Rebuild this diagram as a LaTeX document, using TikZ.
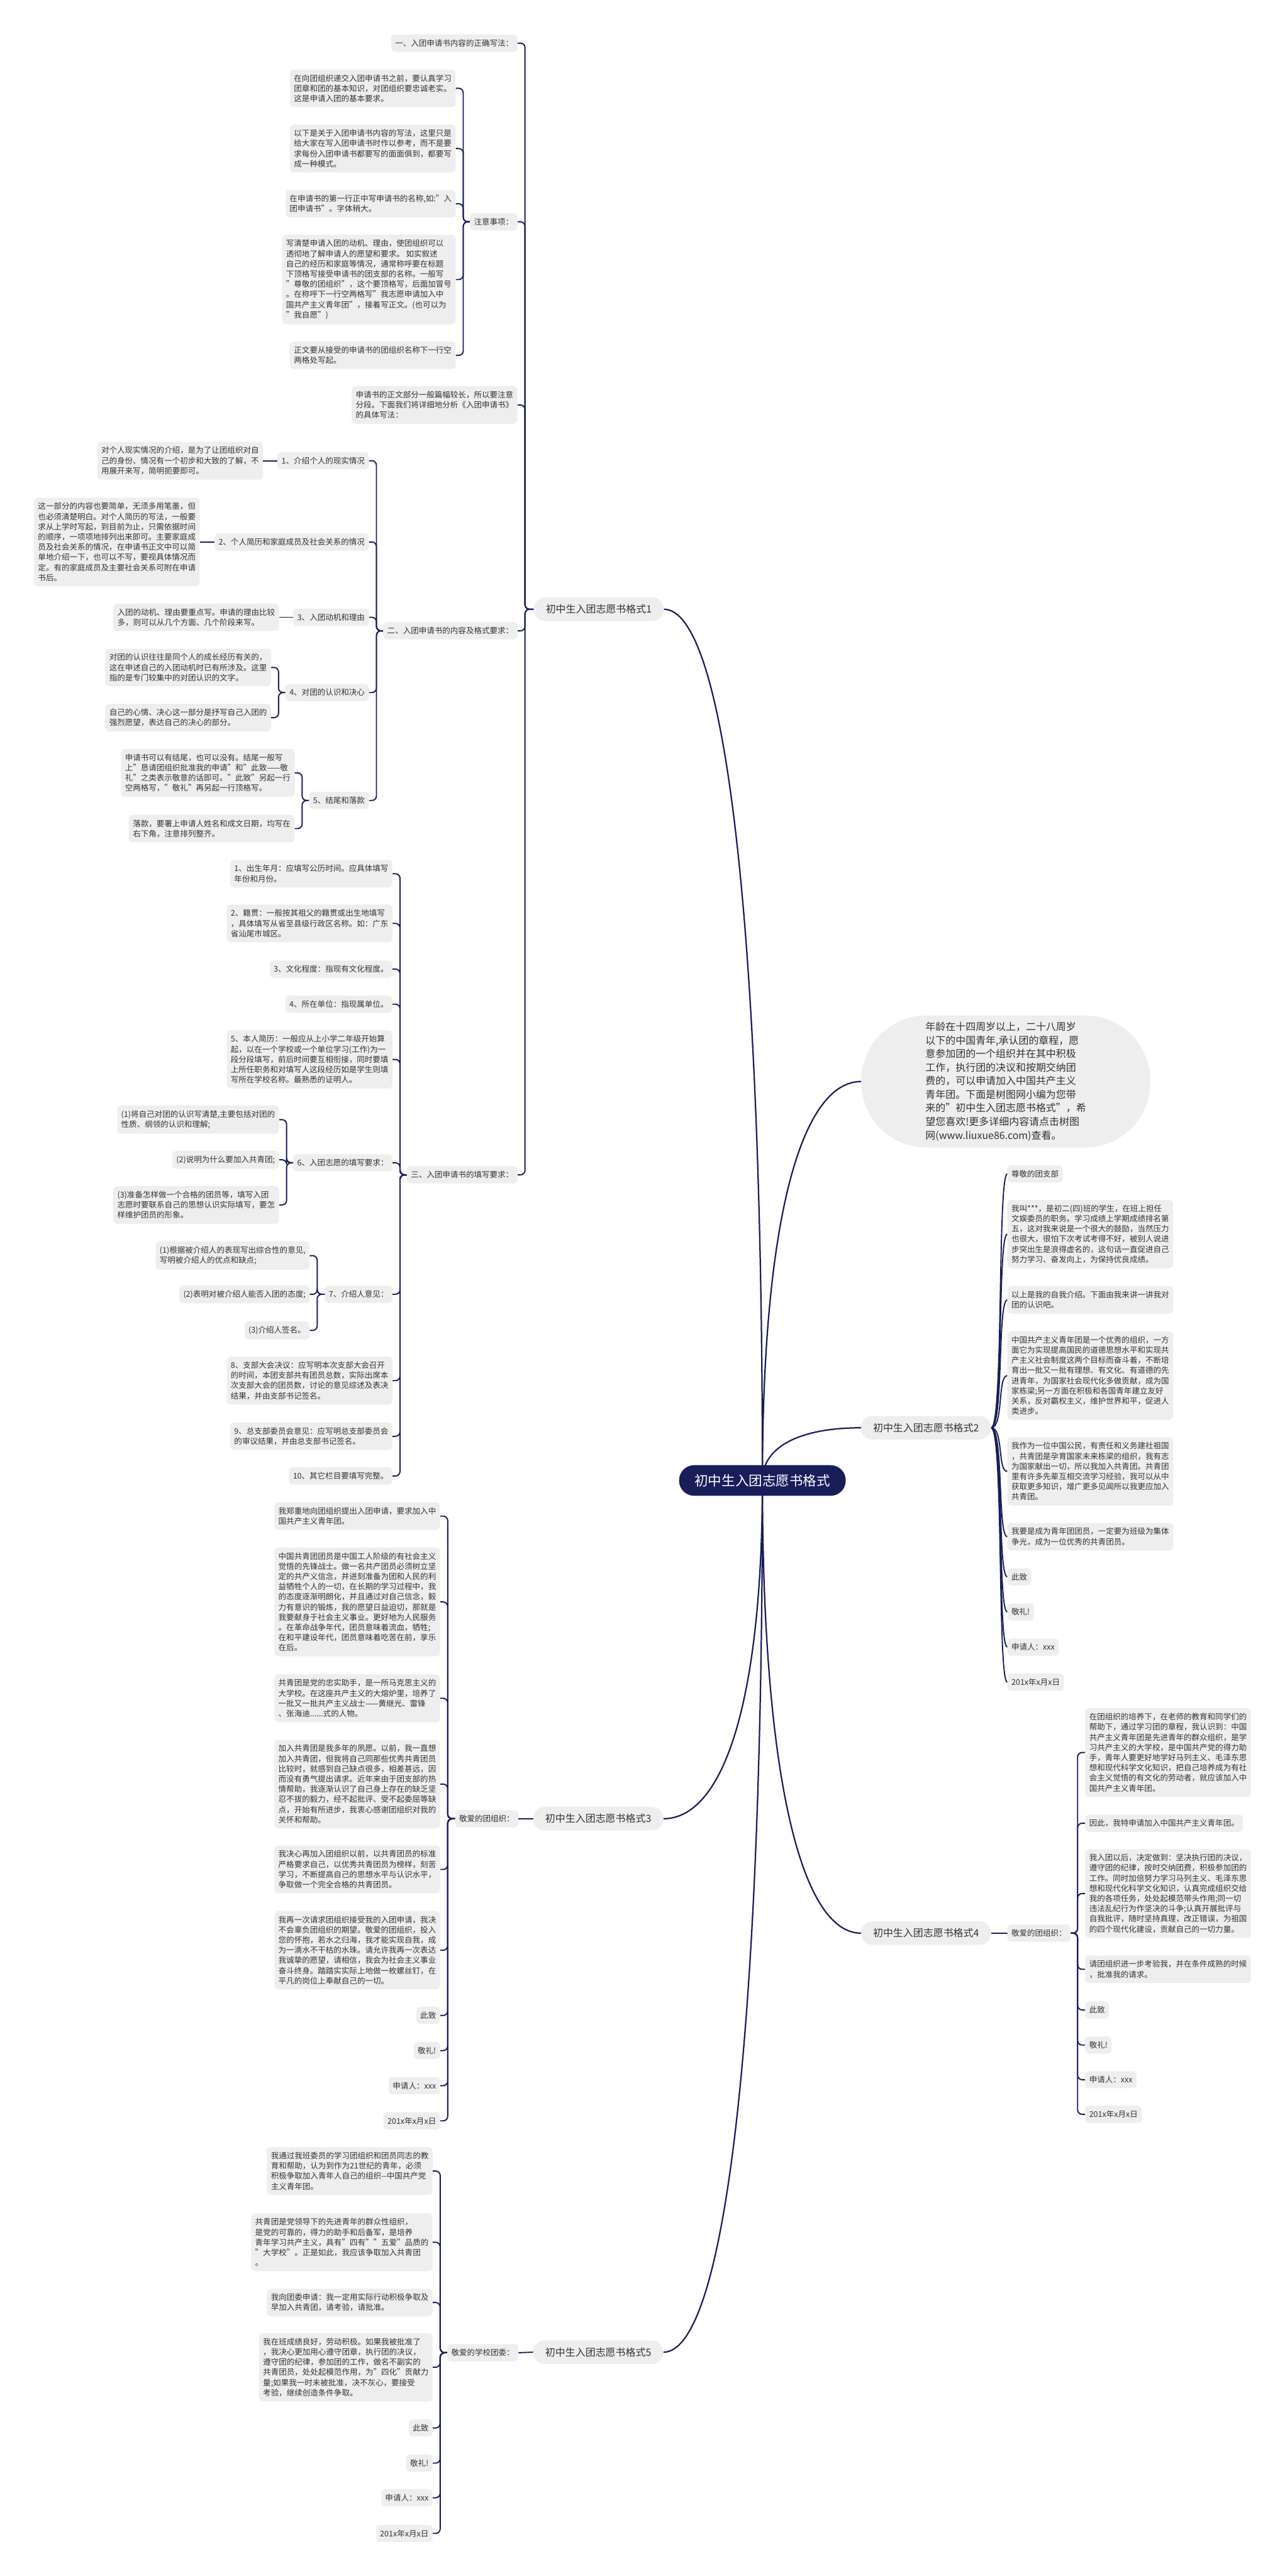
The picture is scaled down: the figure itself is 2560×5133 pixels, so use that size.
\documentclass[tikz,border=0pt]{standalone}
\usepackage{fontspec}
\setmainfont{Noto Sans CJK SC}
\usetikzlibrary{calc}
\definecolor{navy}{RGB}{25,29,90}
\definecolor{boxg}{RGB}{238,238,238}
\definecolor{txt}{RGB}{51,51,51}
\pgfdeclarelayer{bg}
\pgfdeclarelayer{lines}
\pgfsetlayers{bg,lines,main}
\tikzset{
 box/.style={fill=boxg, rounded corners=7pt, align=left, text=txt, font=\fontsize{15.7}{20.3}\selectfont, inner xsep=8pt, inner ysep=9.8pt},
 lab/.style={fill=boxg, rounded corners=23pt, text=txt, font=\fontsize{20}{24}\selectfont, minimum height=47pt, minimum width=259pt, inner sep=0pt},
 br/.style={draw=navy, line width=2.4pt, rounded corners=9pt},
 mainln/.style={draw=navy, line width=2.8pt},
 L/.style={box, anchor=east},
 R/.style={box, anchor=west},
}
\newcommand\maincurve[1]{\draw[mainln] (#1) .. controls ($(#1)!0.6!(#1 -| root.center)$) and ($(root.center)!0.66!(root.center |- #1)$) .. (root.center);}
\newcommand\linkL[2]{\draw[br] (#2.east) -- ++(15,0) |- (#1.west);}
\newcommand\linkR[2]{\draw[br] (#2.west) -- ++(-15,0) |- (#1.east);}
\newcommand\linkS[2]{\draw[br] (#2.east) -- (#1.west);}
\newcommand\linkC[2]{\draw[br] (#1.east) .. controls +(25,0) and +(-20,0) .. (#2.west);}
\begin{document}
\begin{tikzpicture}[x=1pt,y=-1pt]
\useasboundingbox (0,0) rectangle (2560,5133);
\begin{pgfonlayer}{bg}\fill[white] (0,0) rectangle (2560,5133);\end{pgfonlayer}

% root and main labels
\node[fill=navy, text=white, rounded corners=30pt, minimum width=332pt, minimum height=61pt, inner sep=0pt, font=\fontsize{27}{30}\selectfont] (root) at (1519,2950) {初中生入团志愿书格式};
\node[lab] (f1) at (1193,1214) {初中生入团志愿书格式1};
\node[lab] (f2) at (1845,2845) {初中生入团志愿书格式2};
\node[lab] (f3) at (1192,3624) {初中生入团志愿书格式3};
\node[lab] (f4) at (1845,3852) {初中生入团志愿书格式4};
\node[lab] (f5) at (1192,4687) {初中生入团志愿书格式5};
\node[fill=boxg, rounded corners=130pt, minimum width=576pt, minimum height=263pt, align=left, text=txt, font=\fontsize{20}{27}\selectfont] (intro) at (2004,2155) {年龄在十四周岁以上，二十八周岁\\以下的中国青年,承认团的章程，愿\\意参加团的一个组织并在其中积极\\工作，执行团的决议和按期交纳团\\费的，可以申请加入中国共产主义\\青年团。下面是树图网小编为您带\\来的"初中生入团志愿书格式"，希\\望您喜欢!更多详细内容请点击树图\\网(www.liuxue86.com)查看。};

% ---------------- format 1
\node[L] (t1) at (1031,86) {一、入团申请书内容的正确写法：};
\node[L] (zy) at (1031,442) {注意事项：};
\node[L] (zy1) at (908,176) {在向团组织递交入团申请书之前，要认真学习\\团章和团的基本知识，对团组织要忠诚老实。\\这是申请入团的基本要求。};
\node[L] (zy2) at (908,296) {以下是关于入团申请书内容的写法，这里只是\\给大家在写入团申请书时作以参考，而不是要\\求每份入团申请书都要写的面面俱到，都要写\\成一种模式。};
\node[L] (zy3) at (908,406) {在申请书的第一行正中写申请书的名称,如:"入\\团申请书"。字体稍大。};
\node[L] (zy4) at (908,557) {写清楚申请入团的动机、理由，使团组织可以\\透彻地了解申请人的愿望和要求。 如实叙述\\自己的经历和家庭等情况，通常称呼要在标题\\下顶格写接受申请书的团支部的名称。一般写\\"尊敬的团组织"，这个要顶格写，后面加冒号\\。在称呼下一行空两格写"我志愿申请加入中\\国共产主义青年团"，接着写正文。(也可以为\\"我自愿")};
\node[L] (zy5) at (908,708) {正文要从接受的申请书的团组织名称下一行空\\两格处写起。};
\node[L] (t3) at (1031,807) {申请书的正文部分一般篇幅较长，所以要注意\\分段。下面我们将详细地分析《入团申请书》\\的具体写法：};
\node[L] (er) at (1031,1257) {二、入团申请书的内容及格式要求：};
\node[L] (e1) at (735,918) {1、介绍个人的现实情况};
\node[L] (e1a) at (524,918) {对个人现实情况的介绍，是为了让团组织对自\\己的身份、情况有一个初步和大致的了解，不\\用展开来写，简明扼要即可。};
\node[L] (e2) at (735,1080) {2、个人简历和家庭成员及社会关系的情况};
\node[L] (e2a) at (398,1080) {这一部分的内容也要简单，无须多用笔墨，但\\也必须清楚明白。对个人简历的写法，一般要\\求从上学时写起，到目前为止，只需依据时间\\的顺序，一项项地排列出来即可。主要家庭成\\员及社会关系的情况，在申请书正文中可以简\\单地介绍一下，也可以不写，要视具体情况而\\定。有的家庭成员及主要社会关系可附在申请\\书后。};
\node[L] (e3) at (735,1230) {3、入团动机和理由};
\node[L] (e3a) at (556,1230) {入团的动机、理由要重点写。申请的理由比较\\多，则可以从几个方面、几个阶段来写。};
\node[L] (e4) at (735,1380) {4、对团的认识和决心};
\node[L] (e4a) at (540,1330) {对团的认识往往是同个人的成长经历有关的，\\这在申述自己的入团动机时已有所涉及。这里\\指的是专门较集中的对团认识的文字。};
\node[L] (e4b) at (540,1430) {自己的心情、决心这一部分是抒写自己入团的\\强烈愿望，表达自己的决心的部分。};
\node[L] (e5) at (735,1595) {5、结尾和落款};
\node[L] (e5a) at (587,1540) {申请书可以有结尾，也可以没有。结尾一般写\\上"恳请团组织批准我的申请"和"此致——敬\\礼"之类表示敬意的话即可。"此致"另起一行\\空两格写，"敬礼"再另起一行顶格写。};
\node[L] (e5b) at (587,1651) {落款，要署上申请人姓名和成文日期，均写在\\右下角，注意排列整齐。};
\node[L] (sr) at (1031,2341) {三、入团申请书的填写要求：};
\node[L] (s1) at (782,1741) {1、出生年月：应填写公历时间。应具体填写\\年份和月份。};
\node[L] (s2) at (782,1840) {2、籍贯：一般按其祖父的籍贯或出生地填写\\，具体填写从省至县级行政区名称。如：广东\\省汕尾市城区。};
\node[L] (s3) at (782,1931) {3、文化程度：指现有文化程度。};
\node[L] (s4) at (782,2001) {4、所在单位：指现属单位。};
\node[L] (s5) at (782,2111) {5、本人简历：一般应从上小学二年级开始算\\起，以在一个学校或一个单位学习(工作)为一\\段分段填写，前后时间要互相衔接，同时要填\\上所任职务和对填写人这段经历如是学生则填\\写所在学校名称。最熟悉的证明人。};
\node[L] (s6) at (782,2317) {6、入团志愿的填写要求：};
\node[L] (s6a) at (556,2231) {(1)将自己对团的认识写清楚,主要包括对团的\\性质、纲领的认识和理解;};
\node[L] (s6b) at (556,2311) {(2)说明为什么要加入共青团;};
\node[L] (s6c) at (556,2401) {(3)准备怎样做一个合格的团员等，填写入团\\志愿时要联系自己的思想认识实际填写，要怎\\样维护团员的形象。};
\node[L] (s7) at (782,2579) {7、介绍人意见：};
\node[L] (s7a) at (617,2502) {(1)根据被介绍人的表现写出综合性的意见,\\写明被介绍人的优点和缺点;};
\node[L] (s7b) at (617,2579) {(2)表明对被介绍人能否入团的态度;};
\node[L] (s7c) at (617,2651) {(3)介绍人签名。};
\node[L] (s8) at (782,2751) {8、支部大会决议：应写明本次支部大会召开\\的时间，本团支部共有团员总数，实际出席本\\次支部大会的团员数，讨论的意见综述及表决\\结果，并由支部书记签名。};
\node[L] (s9) at (782,2862) {9、总支部委员会意见：应写明总支部委员会\\的审议结果，并由总支部书记签名。};
\node[L] (s10) at (782,2941) {10、其它栏目要填写完整。};

% ---------------- format 2
\node[R] (b1) at (2007,2339) {尊敬的团支部};
\node[R] (b2) at (2007,2459) {我叫***，是初二(四)班的学生，在班上担任\\文娱委员的职务。学习成绩上学期成绩排名第\\五，这对我来说是一个很大的鼓励，当然压力\\也很大，很怕下次考试考得不好，被别人说进\\步突出生是浪得虚名的，这句话一直促进自己\\努力学习、奋发向上，为保持优良成绩。};
\node[R] (b3) at (2007,2590) {以上是我的自我介绍。下面由我来讲一讲我对\\团的认识吧。};
\node[R] (b4) at (2007,2741) {中国共产主义青年团是一个优秀的组织，一方\\面它为实现提高国民的道德思想水平和实现共\\产主义社会制度这两个目标而奋斗着，不断培\\育出一批又一批有理想、有文化、有道德的先\\进青年，为国家社会现代化多做贡献，成为国\\家栋梁;另一方面在积极和各国青年建立友好\\关系，反对霸权主义，维护世界和平，促进人\\类进步。};
\node[R] (b5) at (2007,2932) {我作为一位中国公民，有责任和义务建社祖国\\，共青团是孕育国家未来栋梁的组织，我有志\\为国家献出一切，所以我加入共青团。共青团\\里有许多先辈互相交流学习经验，我可以从中\\获取更多知识，增广更多见闻所以我更应加入\\共青团。};
\node[R] (b6) at (2007,3062) {我要是成为青年团团员，一定要为班级为集体\\争光，成为一位优秀的共青团员。};
\node[R] (b7) at (2007,3142) {此致};
\node[R] (b8) at (2007,3212) {敬礼!};
\node[R] (b9) at (2007,3282) {申请人：xxx};
\node[R] (b10) at (2007,3352) {201x年x月x日};

% ---------------- format 3
\node[L] (g3) at (1033,3624) {敬爱的团组织：};
\node[L] (c1) at (877,3021) {我郑重地向团组织提出入团申请，要求加入中\\国共产主义青年团。};
\node[L] (c2) at (877,3192) {中国共青团团员是中国工人阶级的有社会主义\\觉悟的先锋战士。做一名共产团员必须树立坚\\定的共产义信念，并进刻准备为团和人民的利\\益牺牲个人的一切，在长期的学习过程中，我\\的态度逐渐明朗化，并且通过对自己信念，毅\\力有意识的锻炼，我的愿望日益迫切，那就是\\我要献身于社会主义事业。更好地为人民服务\\。在革命战争年代，团员意味着流血，牺牲;\\在和平建设年代，团员意味着吃苦在前，享乐\\在后。};
\node[L] (c3) at (877,3384) {共青团是党的忠实助手，是一所马克思主义的\\大学校。在这座共产主义的大熔炉里，培养了\\一批又一批共产主义战士——黄继光、雷锋\\、张海迪......式的人物。};
\node[L] (c4) at (877,3555) {加入共青团是我多年的夙愿。以前，我一直想\\加入共青团，但我将自己同那些优秀共青团员\\比较时，就感到自己缺点很多，相差甚远，因\\而没有勇气提出请求。近年来由于团支部的热\\情帮助，我逐渐认识了自己身上存在的缺乏坚\\忍不拔的毅力，经不起批评、受不起委屈等缺\\点，开始有所进步，我衷心感谢团组织对我的\\关怀和帮助。};
\node[L] (c5) at (877,3725) {我决心再加入团组织以前，以共青团员的标准\\严格要求自己，以优秀共青团员为榜样，刻苦\\学习，不断提高自己的思想水平与认识水平，\\争取做一个完全合格的共青团员。};
\node[L] (c6) at (877,3886) {我再一次请求团组织接受我的入团申请，我决\\不会辜负团组织的期望。敬爱的团组织，投入\\您的怀抱，若水之归海，我才能实现自我，成\\为一滴水不干枯的水珠。请允许我再一次表达\\我诚挚的愿望，请相信，我会为社会主义事业\\奋斗终身。踏踏实实际上地做一枚螺丝钉，在\\平凡的岗位上奉献自己的一切。};
\node[L] (c7) at (877,4016) {此致};
\node[L] (c8) at (877,4086) {敬礼!};
\node[L] (c9) at (877,4156) {申请人：xxx};
\node[L] (c10) at (877,4226) {201x年x月x日};

% ---------------- format 4
\node[R] (g4) at (2007,3852) {敬爱的团组织：};
\node[R] (d1) at (2162,3492) {在团组织的培养下，在老师的教育和同学们的\\帮助下，通过学习团的章程，我认识到：中国\\共产主义青年团是先进青年的群众组织，是学\\习共产主义的大学校，是中国共产党的得力助\\手，青年人要更好地学好马列主义、毛泽东思\\想和现代科学文化知识，把自己培养成为有社\\会主义觉悟的有文化的劳动者，就应该加入中\\国共产主义青年团。};
\node[R] (d2) at (2162,3633) {因此，我特申请加入中国共产主义青年团。};
\node[R] (d3) at (2162,3773) {我入团以后，决定做到：坚决执行团的决议，\\遵守团的纪律，按时交纳团费，积极参加团的\\工作。同时加倍努力学习马列主义、毛泽东思\\想和现代化科学文化知识，认真完成组织交给\\我的各项任务，处处起模范带头作用;同一切\\违法乱纪行为作坚决的斗争;认真开展批评与\\自我批评，随时坚持真理，改正错误，为祖国\\的四个现代化建设，贡献自己的一切力量。};
\node[R] (d4) at (2162,3924) {请团组织进一步考验我，并在条件成熟的时候\\，批准我的请求。};
\node[R] (d5) at (2162,4005) {此致};
\node[R] (d6) at (2162,4075) {敬礼!};
\node[R] (d7) at (2162,4144) {申请人：xxx};
\node[R] (d8) at (2162,4213) {201x年x月x日};

% ---------------- format 5
\node[L] (g5) at (1033,4688) {敬爱的学校团委：};
\node[L] (p1) at (862,4326) {我通过我班委员的学习团组织和团员同志的教\\育和帮助，认为到作为21世纪的青年，必须\\积极争取加入青年人自己的组织-{}-中国共产党\\主义青年团。};
\node[L] (p2) at (862,4468) {共青团是党领导下的先进青年的群众性组织，\\是党的可靠的，得力的助手和后备军，是培养\\青年学习共产主义，具有"四有""五爱"品质的\\"大学校"。正是如此，我应该争取加入共青团\\。};
\node[L] (p3) at (862,4588) {我向团委申请：我一定用实际行动积极争取及\\早加入共青团，请考验，请批准。};
\node[L] (p4) at (862,4717) {我在班成绩良好，劳动积极。如果我被批准了\\，我决心更加用心遵守团章，执行团的决议，\\遵守团的纪律，参加团的工作，做名不副实的\\共青团员，处处起模范作用，为"四化"贡献力\\量;如果我一时未被批准，决不灰心，要接受\\考验，继续创造条件争取。};
\node[L] (p5) at (862,4838) {此致};
\node[L] (p6) at (862,4908) {敬礼!};
\node[L] (p7) at (862,4977) {申请人：xxx};
\node[L] (p8) at (862,5048) {201x年x月x日};

\begin{pgfonlayer}{lines}
\maincurve{f1.east}
\maincurve{f3.east}
\maincurve{f5.east}
\maincurve{f2.west}
\maincurve{f4.west}
\maincurve{intro.west}
% format 1
\foreach \c in {t1,zy,t3,er,sr} {\linkL{f1}{\c}}
\foreach \c in {zy1,zy2,zy3,zy4,zy5} {\linkL{zy}{\c}}
\foreach \c in {e1,e2,e3,e4,e5} {\linkL{er}{\c}}
\linkS{e1}{e1a}
\linkS{e2}{e2a}
\linkS{e3}{e3a}
\linkL{e4}{e4a}
\linkL{e4}{e4b}
\linkL{e5}{e5a}
\linkL{e5}{e5b}
\foreach \c in {s1,s2,s3,s4,s5,s6,s7,s8,s9,s10} {\linkL{sr}{\c}}
\foreach \c in {s6a,s6b,s6c} {\linkL{s6}{\c}}
\foreach \c in {s7a,s7b,s7c} {\linkL{s7}{\c}}
% format 2
\foreach \c in {b1,b2,b3,b4,b5,b6,b7,b8,b9,b10} {\linkC{f2}{\c}}
% format 3
\linkS{f3}{g3}
\foreach \c in {c1,c2,c3,c4,c5,c6,c7,c8,c9,c10} {\linkL{g3}{\c}}
% format 4
\draw[br] (f4.east) -- (g4.west);
\foreach \c in {d1,d2,d3,d4,d5,d6,d7,d8} {\linkR{g4}{\c}}
% format 5
\linkS{f5}{g5}
\foreach \c in {p1,p2,p3,p4,p5,p6,p7,p8} {\linkL{g5}{\c}}
\end{pgfonlayer}
\end{tikzpicture}
\end{document}
